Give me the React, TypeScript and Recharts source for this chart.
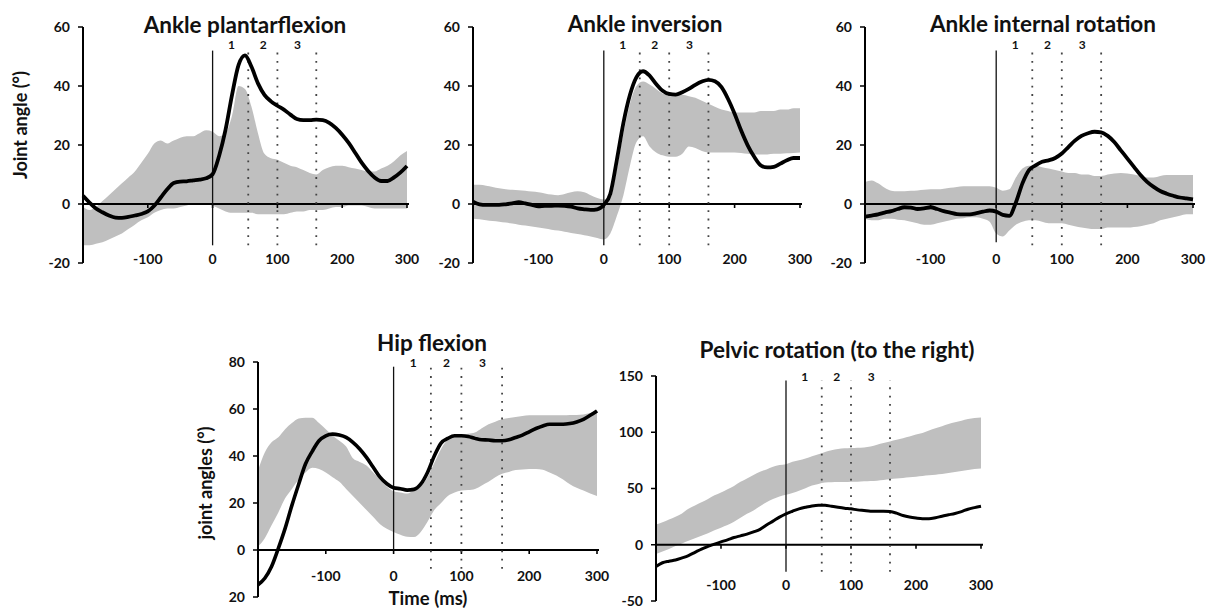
import React from 'react'
import {
  ComposedChart,
  Area,
  Line,
  XAxis,
  YAxis,
  ReferenceLine,
  ReferenceDot
} from 'recharts'

// time (ms) relative to touchdown
const time = [
  -200, -190, -180, -170, -160, -150, -140, -130, -120, -110,
  -100, -90, -80, -70, -60, -50, -40, -30, -20, -10,
  0, 10, 20, 30, 40, 50, 60, 70, 80, 90,
  100, 110, 120, 130, 140, 150, 160, 170, 180, 190,
  200, 210, 220, 230, 240, 250, 260, 270, 280, 290,
  300
]

const xTicks = [-100, 0, 100, 200, 300]
const phaseTimes = [55, 100, 160]
const phaseLabels = ['1', '2', '3']
const phaseLabelTimes = [29, 78, 131]

// Ankle plantarflexion
const plantarMean = [
  2.8, 0.5, -1.5, -2.8, -3.9, -4.6, -4.7, -4.4, -3.9, -3.4,
  -2.5, -0.6, 2.2, 5.0, 7.1, 7.6, 7.7, 8.0, 8.3, 8.7,
  10.1, 16.3, 25.2, 37, 47.1, 50.4, 46.5, 40.9, 37, 34.8,
  33.3, 32, 30.3, 28.8, 28.4, 28.4, 28.6, 28.4, 27.5, 25.8,
  23.5, 20.7, 17.4, 14, 11.2, 9, 7.8, 7.8, 9, 10.7,
  12.9
]
const plantarHigh = [
  -1, -2, -1, 1, 3, 5, 7, 9, 11, 14,
  17, 20.5, 21.5, 20.5, 21.5, 22.5, 23, 23, 24, 25,
  24.5, 23, 24, 30, 40, 39, 33, 24, 17, 15.5,
  15, 14, 13, 12.5, 11.5, 10.5, 10, 11.5, 12.5, 13,
  13, 12.5, 12, 11.5, 11, 11, 12, 13, 14.5, 16.5,
  18
]
const plantarLow = [
  -14, -14, -13.5, -13, -12, -11, -10, -8.5, -7, -5.5,
  -4.5, -3, -2, -1.5, -1.5, -1, -0.5, 0, 0, 0,
  -0.5, -1.5, -2.5, -3, -3, -3, -3, -3.5, -3.5, -3.5,
  -3.5, -3.5, -3, -2.5, -2.5, -2, -2, -2, -1.5, -1,
  -1, -0.5, -0.5, -0.5, -1, -1.5, -1.5, -1.5, -1.5, -1.5,
  -1.5
]

// Ankle inversion
const invMean = [
  0.8, -0.1, -0.3, -0.3, -0.3, -0.1, 0.2, 0.6, 0.2, -0.3,
  -0.8, -0.6, -0.6, -0.5, -0.6, -0.9, -1.5, -1.8, -2, -1.8,
  -0.3, 3.5, 15, 27.5, 37, 43, 45, 43.5, 40.7, 38.4,
  37.3, 37.1, 37.9, 39, 40.4, 41.5, 42.1, 41.6, 39.6, 35.6,
  30.6, 24.9, 19.9, 16, 13.1, 12.4, 12.6, 13.7, 14.8, 15.6,
  15.6
]
const invHigh = [
  6.5, 6.5, 6.2, 5.8, 5.3, 5, 4.8, 4.7, 4.5, 4.2,
  4, 3.6, 3.2, 3, 3.4, 4, 4.3, 4, 3, 2,
  1.5, 2, 12, 24, 34, 40, 41.5, 40.5, 39, 37.5,
  37, 37, 37, 36.5, 36, 35, 34, 33, 32, 31.5,
  31, 31, 31, 31, 31.5, 31.5, 31.5, 32, 32, 32.5,
  32.5
]
const invLow = [
  -5, -5.2, -5.5, -5.8, -6, -6.3, -6.6, -7, -7.3, -7.6,
  -8, -8.3, -8.7, -9, -9.4, -9.8, -10.2, -10.6, -11, -11.5,
  -12, -10, -4, 3, 13, 21, 23, 19.5, 17.5, 16.5,
  16, 16, 17, 19.5, 19, 18, 17.5, 17.5, 17.5, 17.5,
  17.5, 17.3, 17, 16.8, 16.8, 16.8, 17, 17, 17.2, 17.3,
  17.5
]

// Ankle internal rotation
const rotMean = [
  -4.3, -3.9, -3.5, -2.9, -2.4, -1.7, -1.1, -1.2, -1.7, -1.5,
  -1.1, -1.7, -2.4, -2.9, -3.4, -3.5, -3.5, -3.1, -2.6, -2.2,
  -2.6, -3.7, -4, 0.5, 7, 11.5, 13.1, 14.3, 14.8, 15.6,
  17.1, 19.3, 21.5, 23.1, 24, 24.5, 24.3, 23.1, 21, 18.2,
  15.4, 12.6, 9.8, 7.5, 5.8, 4.4, 3.5, 2.8, 2.2, 1.9,
  1.6
]
const rotHigh = [
  7.5, 8, 7, 5.5, 4.5, 4.3, 4.3, 4.5, 4.6, 4.8,
  5, 5, 5.2, 5.5, 5.8, 6, 6, 6, 6, 6,
  5.5, 4.5, 5, 9, 12, 13, 13, 12.5, 12, 11.5,
  11, 10.5, 10.5, 10, 10, 9.5, 9.5, 10, 10.3, 10.5,
  10.3, 10, 9.5, 9, 9, 9.5, 9.8, 9.8, 9.8, 9.8,
  9.8
]
const rotLow = [
  -5, -5.5, -5.5, -5, -5, -5.3, -5.5, -6, -6.5, -7,
  -7, -6.5, -6, -5.5, -5, -4.8, -4.5, -4.5, -5, -6,
  -10, -11, -9, -7, -6, -5.5, -5.5, -6, -6.5, -6.5,
  -6.5, -7, -7.5, -8, -8.3, -8.5, -8.5, -8, -8, -8,
  -8, -7.8, -7.5, -7, -6.5, -5.5, -5, -4.5, -4, -3.5,
  -3.5
]

// Hip flexion
const hipMean = [
  -14.8, -12, -7, 0.7, 9.2, 19, 28, 36.6, 42, 46.5,
  48.6, 49.3, 48.9, 47.9, 45.8, 43, 39.4, 35.2, 31, 28.2,
  26.5, 26.1, 25.5, 25.8, 28, 33, 40, 45.5, 47.5, 48.6,
  48.6, 48.3, 47.5, 46.9, 46.8, 46.5, 46.5, 46.9, 47.9, 48.9,
  50.3, 51.7, 52.8, 53.5, 53.5, 53.5, 53.8, 54.5, 55.6, 57.3,
  59.2
]
const hipHigh = [
  33.8, 41.5, 45.8, 48, 51.4, 54, 56, 56.3, 56.3, 54,
  51.4, 48.6, 46.5, 44, 39, 37.5, 36, 33, 30, 27,
  25, 24.5, 24, 25.5, 27, 31, 37, 43, 47, 48.5,
  49, 49.5, 50, 51.8, 53.5, 54.6, 55.6, 56.2, 56.6, 57,
  57.3, 57.3, 57.3, 57.3, 57.3, 57.3, 57.4, 57.5, 57.7, 58.3,
  59
]
const hipLow = [
  1.4, 5, 10.5, 16, 22, 26, 30, 33, 35, 34.5,
  33, 31, 29, 26, 23, 20, 17, 14, 11, 9,
  7.7, 6.5, 5.6, 5.5, 7.7, 12, 17, 20, 23, 24.5,
  25.3, 25.5, 26, 27.5, 29, 31, 32.4, 33.2, 34, 34.3,
  34.5, 34.5, 34.2, 33, 31.7, 30, 28, 26.5, 25.3, 24,
  23
]
const hipYTicks = [-20, 0, 20, 40, 60, 80]
const hipYTickLabels = ['20', '0', '20', '40', '60', '80']

// Pelvic rotation (to the right)
const pelvMean = [
  -19.3, -16, -14.6, -13.5, -11.7, -9.6, -6.7, -3.8, -1.5, 0.6,
  2.6, 4.4, 6.4, 7.9, 9.4, 11.4, 13.7, 17.5, 21, 24.6,
  27.5, 29.8, 31.9, 33.3, 34.5, 35.1, 35.1, 34.2, 33.3, 32.5,
  31.9, 31, 30.4, 29.8, 29.8, 29.8, 29.5, 28.1, 26, 24.6,
  23.7, 23.1, 23.1, 24, 25.4, 26.6, 27.8, 29.5, 31.6, 33,
  34.2
]
const pelvHigh = [
  18, 20, 22.5, 25, 27.8, 32, 35, 37.7, 40.6, 43.9,
  46.5, 49.4, 52.3, 56, 59, 62, 65, 67, 69.3, 70.8,
  71.6, 73.7, 75.1, 76.6, 78.7, 80.4, 82.5, 83.9, 85.1, 85.7,
  86, 86.3, 86.5, 87.4, 88.9, 90.4, 91.8, 93.3, 94.7, 96.2,
  98, 99.4, 101.5, 103.5, 105.3, 107.3, 108.8, 110.2, 111.7, 112.6,
  113.2
]
const pelvLow = [
  -8.2, -6.1, -3.8, -1.2, 1.2, 3.5, 5.8, 7.9, 10.2, 12.9,
  15.2, 17.5, 20.5, 24, 27.5, 30.4, 34.2, 37.7, 40.6, 43,
  44.4, 45.9, 48, 50.3, 52.6, 54.1, 55.3, 55.6, 55.8, 55.8,
  56.1, 56.1, 56.4, 56.7, 57, 57.6, 58.2, 58.8, 59.4, 59.9,
  60.5, 61.1, 61.7, 62.3, 62.9, 63.7, 64.6, 65.5, 66.4, 67.3,
  67.8
]

const ankleYTicks = [-20, 0, 20, 40, 60]
const pelvYTicks = [-50, 0, 50, 100, 150]

const FONT = 'Lato, "Open Sans", sans-serif'
const BAND = '#bfbfbf'
const X_DOMAIN: [number, number] = [-200, 300]

const YW = 50
const MT = 12
const MR = 16
const XH = 24

type PanelProps = {
  left: number
  top: number
  plotW: number
  plotH: number
  mean: number[]
  low: number[]
  high: number[]
  yDomain: [number, number]
  yTicks: number[]
  yTickLabels?: string[]
  solidSpan: [number, number]
  dotSpan: [number, number]
  phaseY: number
  xLabelShift: number
  lineWidth: number
}

const zeroAxis = (p: any) => {
  const { x1, x2, y1 } = p
  const span = X_DOMAIN[1] - X_DOMAIN[0]
  return (
    <g>
      <line x1={x1} x2={x2 + 2} y1={y1} y2={y1} stroke='#000' strokeWidth={1.8} />
      {xTicks.map(t => {
        const m = x1 + ((t - X_DOMAIN[0]) / span) * (x2 - x1)
        return (
          <line key={t} x1={m} x2={m} y1={y1} y2={y1 + 4} stroke='#000' strokeWidth={1.6} />
        )
      })}
    </g>
  )
}

const Panel = ({
  left,
  top,
  plotW,
  plotH,
  mean,
  low,
  high,
  yDomain,
  yTicks,
  yTickLabels,
  solidSpan,
  dotSpan,
  phaseY,
  xLabelShift,
  lineWidth
}: PanelProps) => {
  const rows = time.map((t, i) => ({ t, mean: mean[i], band: [low[i], high[i]] }))

  const xTick = (props: any) => (
    <text
      x={props.x}
      y={props.y + xLabelShift}
      dy='0.35em'
      textAnchor='middle'
      fontFamily={FONT}
      fontWeight={700}
      fontSize={14}
      fill='#111'
    >
      {props.payload.value}
    </text>
  )

  return (
    <div style={{ position: 'absolute', left: left - YW, top: top - MT }}>
      <ComposedChart
        width={YW + plotW + MR}
        height={MT + plotH + XH}
        data={rows}
        margin={{ top: MT, right: MR, left: 0, bottom: 0 }}
      >
        <XAxis
          dataKey='t'
          type='number'
          domain={X_DOMAIN}
          ticks={xTicks}
          interval={0}
          axisLine={false}
          tickLine={false}
          tickSize={0}
          tickMargin={0}
          height={XH}
          tick={xTick}
        />
        <YAxis
          domain={yDomain}
          ticks={yTicks}
          interval={0}
          width={YW}
          allowDataOverflow
          axisLine={{ stroke: '#000', strokeWidth: 2 }}
          tickLine={{ stroke: '#000', strokeWidth: 1.5 }}
          tickSize={5}
          tickMargin={8}
          tick={{ fontFamily: FONT, fontWeight: 700, fontSize: 14, fill: '#111' }}
          tickFormatter={(v: number) =>
            yTickLabels ? yTickLabels[yTicks.indexOf(v)] : String(v)
          }
        />
        <Area
          dataKey='band'
          type='monotone'
          stroke='none'
          fill={BAND}
          fillOpacity={1}
          isAnimationActive={false}
        />
        <ReferenceLine y={0} shape={zeroAxis} />
        <ReferenceLine
          segment={[
            { x: 0, y: solidSpan[0] },
            { x: 0, y: solidSpan[1] }
          ]}
          stroke='#111'
          strokeWidth={1.3}
        />
        {phaseTimes.map(t => (
          <ReferenceLine
            key={t}
            segment={[
              { x: t, y: dotSpan[0] },
              { x: t, y: dotSpan[1] }
            ]}
            stroke='#444'
            strokeWidth={1.8}
            strokeDasharray='1.8 6.5'
          />
        ))}
        {phaseLabels.map((lab, i) => (
          <ReferenceDot
            key={lab}
            x={phaseLabelTimes[i]}
            y={phaseY}
            r={0}
            fill='none'
            stroke='none'
            label={{
              value: lab,
              position: 'center',
              fontFamily: FONT,
              fontWeight: 700,
              fontSize: 12,
              fill: '#111'
            }}
          />
        ))}
        <Line
          dataKey='mean'
          type='monotone'
          stroke='#000'
          strokeWidth={lineWidth}
          dot={false}
          isAnimationActive={false}
        />
      </ComposedChart>
    </div>
  )
}

const textStyle = (x: number, y: number, size: number, rotate = false): React.CSSProperties => ({
  position: 'absolute',
  left: x,
  top: y,
  transform: `translate(-50%, -50%)${rotate ? ' rotate(-90deg)' : ''}`,
  fontFamily: FONT,
  fontWeight: 700,
  fontSize: size,
  lineHeight: 1,
  whiteSpace: 'nowrap',
  color: '#111'
})

export default function App() {
  return (
    <div
      style={{
        position: 'absolute',
        left: 0,
        top: 0,
        width: 1214,
        height: 609,
        background: '#fff',
        overflow: 'hidden'
      }}
    >
      <Panel
        left={83}
        top={27}
        plotW={324}
        plotH={236}
        mean={plantarMean}
        low={plantarLow}
        high={plantarHigh}
        yDomain={[-20, 60]}
        yTicks={ankleYTicks}
        solidSpan={[-14, 52]}
        dotSpan={[-14, 52]}
        phaseY={54}
        xLabelShift={-4}
        lineWidth={3.8}
      />
      <Panel
        left={473}
        top={27}
        plotW={327}
        plotH={236}
        mean={invMean}
        low={invLow}
        high={invHigh}
        yDomain={[-20, 60]}
        yTicks={ankleYTicks}
        solidSpan={[-14, 52]}
        dotSpan={[-14, 52]}
        phaseY={54}
        xLabelShift={-4}
        lineWidth={3.8}
      />
      <Panel
        left={865}
        top={27}
        plotW={328}
        plotH={236}
        mean={rotMean}
        low={rotLow}
        high={rotHigh}
        yDomain={[-20, 60]}
        yTicks={ankleYTicks}
        solidSpan={[-13, 52]}
        dotSpan={[-14, 52]}
        phaseY={54}
        xLabelShift={-4}
        lineWidth={3.8}
      />
      <Panel
        left={258}
        top={362}
        plotW={339}
        plotH={235}
        mean={hipMean}
        low={hipLow}
        high={hipHigh}
        yDomain={[-20, 80]}
        yTicks={hipYTicks}
        yTickLabels={hipYTickLabels}
        solidSpan={[0, 78]}
        dotSpan={[-8, 78]}
        phaseY={79.5}
        xLabelShift={-21}
        lineWidth={3.6}
      />
      <Panel
        left={656}
        top={376}
        plotW={325}
        plotH={225}
        mean={pelvMean}
        low={pelvLow}
        high={pelvHigh}
        yDomain={[-50, 150]}
        yTicks={pelvYTicks}
        solidSpan={[-24, 146]}
        dotSpan={[-24, 146]}
        phaseY={149}
        xLabelShift={-16}
        lineWidth={3}
      />

      <div style={textStyle(245, 25, 22.5)}>Ankle plantarflexion</div>
      <div style={textStyle(645, 24, 22.5)}>Ankle inversion</div>
      <div style={textStyle(1043, 24, 22.5)}>Ankle internal rotation</div>
      <div style={textStyle(432, 343, 22.5)}>Hip flexion</div>
      <div style={textStyle(837, 350, 22.5)}>Pelvic rotation (to the right)</div>

      <div style={textStyle(20, 125, 18, true)}>Joint angle (°)</div>
      <div style={textStyle(205, 483, 18, true)}>joint angles (°)</div>
      <div style={textStyle(428, 598, 18.5)}>Time (ms)</div>
    </div>
  )
}
